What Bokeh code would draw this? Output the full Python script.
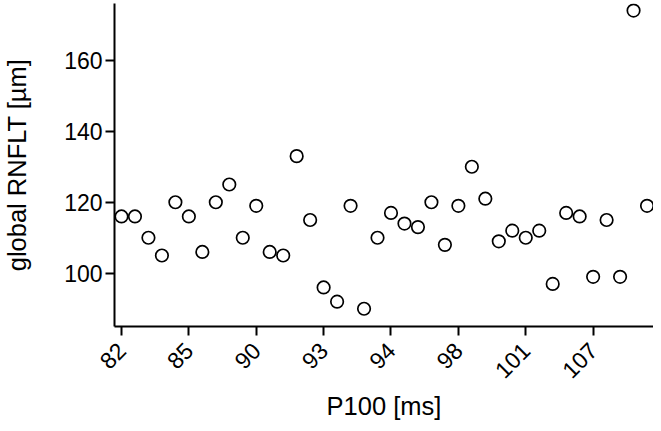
from bokeh.plotting import figure
from bokeh.models import FixedTicker, Range1d, ColumnDataSource
from bokeh.embed import file_html
from bokeh.resources import INLINE

# global RNFLT values, sorted by P100
rnflt = [116, 116, 110, 105, 120, 116, 106, 120, 125, 110,
         119, 106, 105, 133, 115, 96, 92, 119, 90, 110,
         117, 114, 113, 120, 108, 119, 130, 121, 109, 112,
         110, 112, 97, 117, 116, 99, 115, 99, 174, 119]
tick_positions = [0, 5, 10, 15, 20, 25, 30, 35]
tick_labels = ["82", "85", "90", "93", "94", "98", "101", "107"]
y_ticks = [100, 120, 140, 160]

idx = list(range(len(rnflt)))
src = ColumnDataSource(dict(x=idx, y=rnflt))

FONT = "Liberation Sans"

p = figure(width=653, height=423, output_backend="svg", toolbar_location=None,
           x_range=Range1d(-0.5185, 39.48), y_range=Range1d(85, 176),
           min_border_left=113, min_border_right=0, min_border_top=3,
           min_border_bottom=97)
p.outline_line_color = None
p.xgrid.visible = False
p.ygrid.visible = False
p.background_fill_color = "white"
p.border_fill_color = "white"

p.scatter("x", "y", source=src, marker="circle", size=12.5,
          fill_color="white", line_color="black", line_width=1.7)

for ax in (p.xaxis[0], p.yaxis[0]):
    ax.axis_line_width = 2
    ax.axis_line_color = "black"
    ax.major_tick_line_width = 2
    ax.major_tick_line_color = "black"
    ax.major_tick_out = 9
    ax.major_tick_in = 0
    ax.minor_tick_line_color = None
    ax.major_label_text_font = FONT
    ax.major_label_text_font_size = "23px"
    ax.major_label_text_color = "black"
    ax.axis_label_text_font = FONT
    ax.axis_label_text_font_size = "25.5px"
    ax.axis_label_text_font_style = "normal"
    ax.axis_label_text_color = "black"

p.xaxis.ticker = FixedTicker(ticks=tick_positions)
p.xaxis.major_label_overrides = {t: l for t, l in zip(tick_positions, tick_labels)}
p.xaxis.major_label_orientation = 0.785398
p.xaxis.major_label_standoff = 11
p.xaxis.axis_label = "P100 [ms]"
p.xaxis.axis_label_standoff = 3

p.yaxis.ticker = FixedTicker(ticks=y_ticks)
p.yaxis.major_label_standoff = 3
p.yaxis.axis_label = "global RNFLT [µm]"
p.yaxis.axis_label_standoff = 30

open("out.html", "w").write(file_html(p, INLINE))
